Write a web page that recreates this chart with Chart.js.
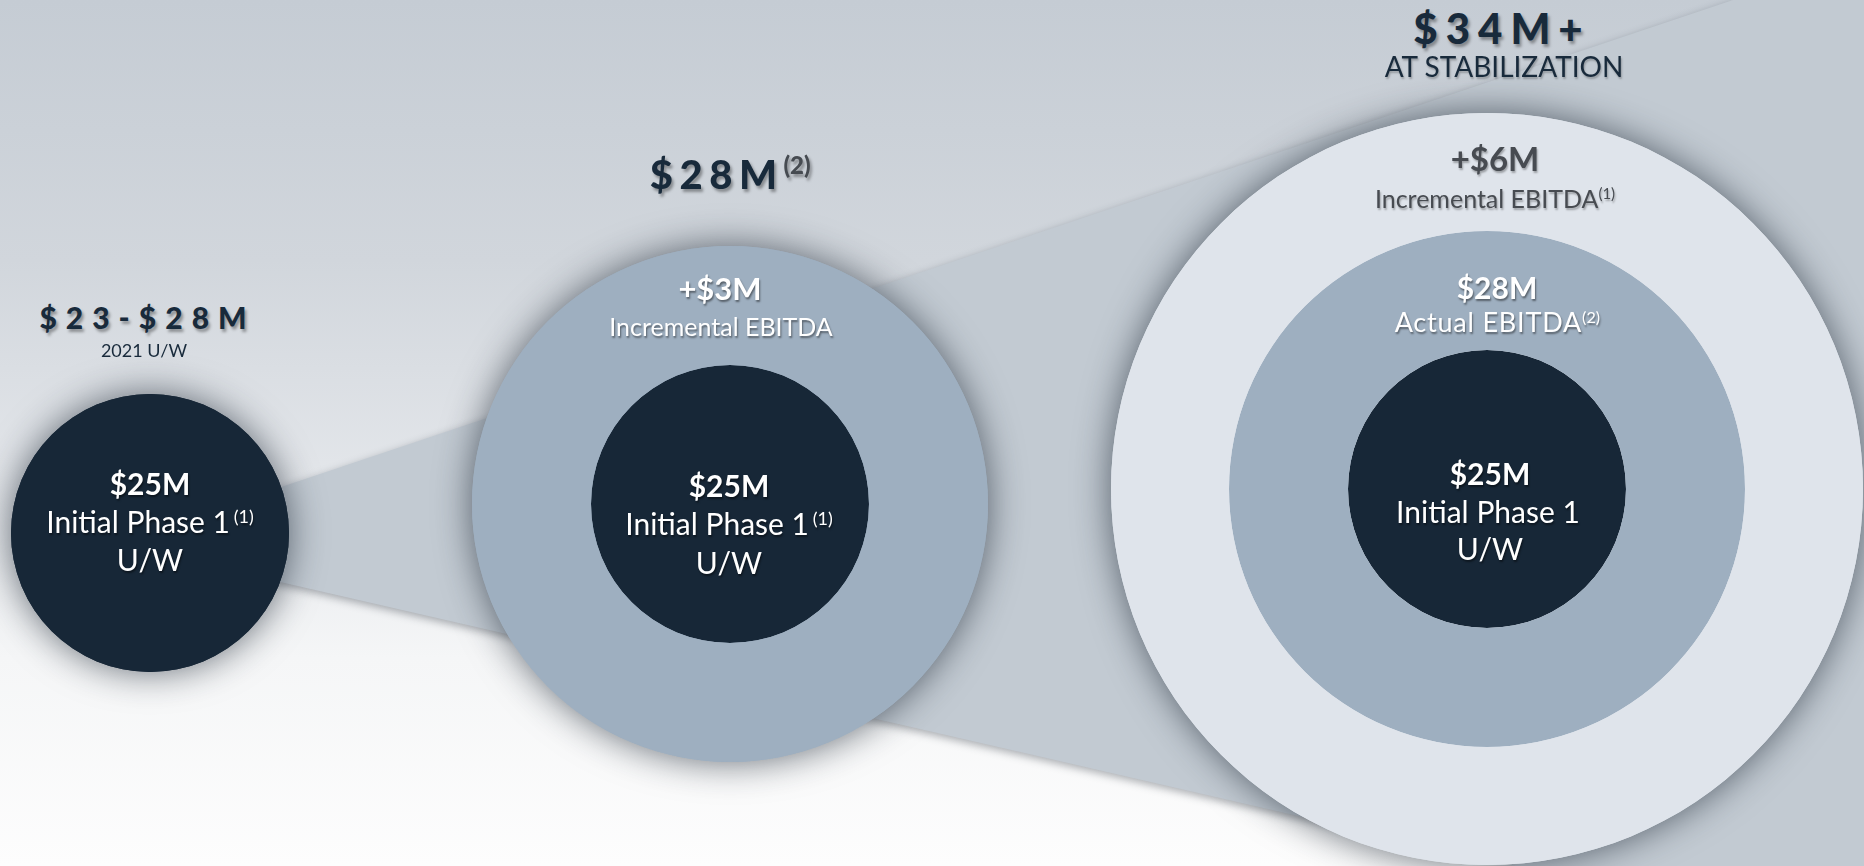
<!DOCTYPE html>
<html>
<head>
<meta charset="utf-8">
<script src="https://cdn.jsdelivr.net/npm/chart.js@4.4.1/dist/chart.umd.min.js"></script>
<style>
  html, body { margin: 0; padding: 0; }
  body {
    width: 1864px; height: 866px; overflow: hidden; position: relative;
    font-family: Lato, "Open Sans", sans-serif;
    background: linear-gradient(180deg, #c5ccd4 0%, #d1d6dc 30%, #e3e6ea 55%, #f5f6f7 76%, #fdfdfd 100%);
  }
  #funnelWrap { position: absolute; left: 0; top: 0; width: 1864px; height: 866px;
    filter: drop-shadow(0 3px 4px rgba(20, 30, 40, 0.35)); }
  #funnel { position: absolute; left: 0; top: 0; width: 1864px; height: 866px; background: #c2cad2;
    clip-path: polygon(150px 531px, 1733px 0px, 1864px 0px, 1864px 946px, 150px 552px); }
  .stage { position: absolute; }
  .txt { position: absolute; white-space: nowrap; transform: translateX(-50%); line-height: 1.2; }
  .sup { font-size: 0.6em; position: relative; top: -0.6em; letter-spacing: 0; }
</style>
</head>
<body>
<div id="funnelWrap"><div id="funnel"></div></div>

<script>
// figures in $M
const stageNames = ["2021 U/W", "Actual", "At Stabilization"];
const uwRange = [23, 28];
const initialPhaseUW = [25, 25, 25];
const incrementalActual = [null, 3, 3];
const incrementalStabilized = [null, null, 6];

// layout / style
const centers = [[150, 533], [730, 504], [1487, 489]];
const ringRadius = [139, 258, 376];
const ringColors = ["#172737", "#9eafc0", "#dfe4eb"];
const PAD = 50;

const ringShadow = {
  id: "ringShadow",
  beforeDatasetsDraw(chart) {
    const arc = chart.getDatasetMeta(0).data[0];
    if (!arc) return;
    const ctx = chart.ctx;
    ctx.save();
    ctx.shadowColor = "rgba(25, 35, 48, 0.65)";
    ctx.shadowBlur = 36;
    ctx.fillStyle = chart.data.datasets[0].backgroundColor;
    ctx.beginPath();
    ctx.arc(arc.x, arc.y, arc.outerRadius, 0, Math.PI * 2);
    ctx.fill();
    ctx.restore();
  }
};

function ringsFor(i) {
  // innermost first
  const rings = [{ label: "Initial Phase 1 U/W", value: initialPhaseUW[i] }];
  if (incrementalActual[i] != null) {
    if (incrementalStabilized[i] != null) {
      rings.push({ label: "Actual EBITDA", value: initialPhaseUW[i] + incrementalActual[i] });
    } else {
      rings.push({ label: "Incremental EBITDA", value: incrementalActual[i] });
    }
  }
  if (incrementalStabilized[i] != null) {
    rings.push({ label: "Incremental EBITDA", value: incrementalStabilized[i] });
  }
  return rings;
}

function drawStage(i) {
  const rings = ringsFor(i);
  const R = ringRadius[rings.length - 1];
  const size = 2 * (R + PAD);
  const canvas = document.createElement("canvas");
  canvas.className = "stage";
  canvas.width = size;
  canvas.height = size;
  canvas.style.left = (centers[i][0] - R - PAD) + "px";
  canvas.style.top = (centers[i][1] - R - PAD) + "px";
  document.body.appendChild(canvas);

  // Chart.js lists rings outside-in
  const datasets = rings.map((r, k) => ({
    label: r.label,
    data: [r.value],
    backgroundColor: ringColors[k],
    weight: ringRadius[k] - (k > 0 ? ringRadius[k - 1] : 0)
  })).reverse();

  new Chart(canvas, {
    type: "pie",
    data: { labels: [stageNames[i]], datasets: datasets },
    options: {
      responsive: false,
      animation: false,
      events: [],
      radius: R,
      layout: { padding: PAD },
      elements: { arc: { borderWidth: 0 } },
      plugins: { legend: { display: false }, tooltip: { enabled: false } }
    },
    plugins: [ringShadow]
  });
}

function addText(html, x, baseline, size, o) {
  o = o || {};
  const d = document.createElement("div");
  d.className = "txt";
  d.innerHTML = html;
  d.style.left = x + "px";
  d.style.top = (baseline - 0.987 * size) + "px";
  d.style.fontSize = size + "px";
  d.style.fontWeight = o.weight || 400;
  d.style.color = o.color || "#ffffff";
  if (o.ls) {
    d.style.letterSpacing = o.ls + "px";
    d.style.paddingLeft = o.ls + "px";
  }
  d.style.textShadow = o.shadow || "1px 2px 2px rgba(0,0,0,0.45)";
  document.body.appendChild(d);
}

for (let i = 0; i < 3; i++) drawStage(i);

const navy = "#182a3b";
const headShadow = "2px 3px 3px rgba(0,0,0,0.35)";
const greyText = "#474b51";
const greyShadow = "1px 2px 2px rgba(0,0,0,0.3)";
const m = v => "$" + v + "M";

// headings
addText("$" + uwRange[0] + "-" + m(uwRange[1]), 143, 329, 30, { weight: 900, color: navy, ls: 9, shadow: headShadow });
addText(stageNames[0], 144, 358, 18, { color: navy, shadow: "none" });

const actual = initialPhaseUW[1] + incrementalActual[1];
addText(m(actual) + '<span class="sup" style="color:#464b51">(2)</span>', 727, 189, 40,
  { weight: 900, color: navy, ls: 6.5, shadow: headShadow });

const stabilized = initialPhaseUW[2] + incrementalActual[2] + incrementalStabilized[2];
addText(m(stabilized) + "+", 1498, 44, 42, { weight: 900, color: navy, ls: 8, shadow: headShadow });
addText(stageNames[2].toUpperCase(), 1504, 78, 28, { color: navy, shadow: "1px 2px 2px rgba(0,0,0,0.25)" });

// stage 1
addText(m(initialPhaseUW[0]), 150, 495, 30, { weight: 700 });
addText('Initial Phase 1&thinsp;<span class="sup">(1)</span>', 150, 533, 30);
addText("U/W", 150, 571, 30);

// stage 2
addText("+" + m(incrementalActual[1]), 720, 301, 31, { weight: 700 });
addText("Incremental EBITDA", 721, 336, 25);
addText(m(initialPhaseUW[1]), 729, 497, 30, { weight: 700 });
addText('Initial Phase 1&thinsp;<span class="sup">(1)</span>', 729, 535, 30);
addText("U/W", 729, 574, 30);

// stage 3
addText("+" + m(incrementalStabilized[2]), 1495, 172, 33, { weight: 700, color: greyText, shadow: greyShadow });
addText('Incremental EBITDA<span class="sup">(1)</span>', 1495, 208, 25, { color: greyText, shadow: greyShadow });
addText(m(initialPhaseUW[2] + incrementalActual[2]), 1497, 299, 30, { weight: 700 });
addText('Actual EBITDA<span class="sup">(2)</span>', 1497, 333, 27, { ls: 0.8 });
addText(m(initialPhaseUW[2]), 1490, 485, 30, { weight: 700 });
addText("Initial Phase 1", 1488, 523, 30);
addText("U/W", 1490, 560, 30);
</script>
</body>
</html>
